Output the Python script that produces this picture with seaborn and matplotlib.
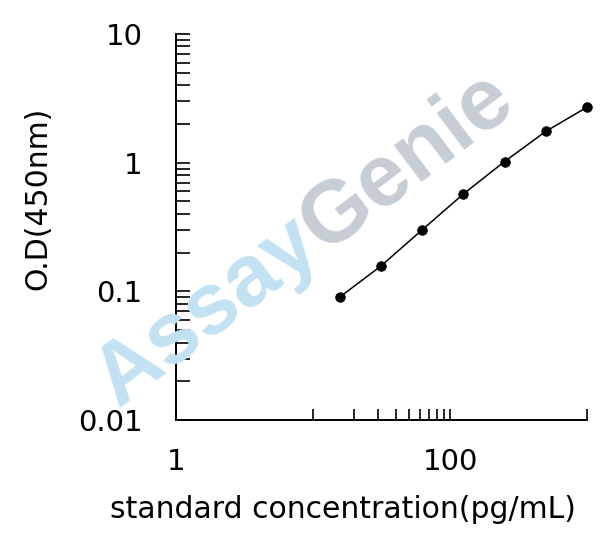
import numpy as np
import pandas as pd
import matplotlib
matplotlib.use("Agg")
import matplotlib.pyplot as plt
from matplotlib.ticker import FixedLocator, NullFormatter
import seaborn as sns

# ── data ─────────────────────────────────────────────────
conc = [15.625, 31.25, 62.5, 125, 250, 500, 1000]
od = [0.090, 0.157, 0.30, 0.57, 1.02, 1.75, 2.70]

x_major = [1, 10, 100, 1000]
x_major_labels = ["1", "", "100", ""]
x_minor = [20, 30, 40, 50, 60, 70, 80, 90]
y_major = [0.01, 0.1, 1, 10]
y_major_labels = ["0.01", "0.1", "1", "10"]

df = pd.DataFrame({"conc": conc, "od": od})

sns.set_style("ticks")
plt.rcParams["font.family"] = ["DejaVu Sans"]
plt.rcParams["text.color"] = "black"
plt.rcParams["axes.labelcolor"] = "black"

W, H = 608, 544
fig = plt.figure(figsize=(W / 100, H / 100), dpi=100)
ax = fig.add_axes([0.2895, 0.228, 0.676, 0.7095])
ax.set_facecolor("none")

# ── watermark: one word, two colours ─────────────────────
ang = 37
wm_size = 63
wm_font = ["Liberation Sans", "DejaVu Sans"]
x0, y0 = 118, 408   # baseline start, pixels from top-left
renderer = fig.canvas.get_renderer()
tmp = fig.text(0, 0, "Assay", fontsize=wm_size, fontweight="bold", family=wm_font)
w_assay = tmp.get_window_extent(renderer=renderer).width
tmp.remove()
fig.text(x0 / W, 1 - y0 / H, "Assay", fontsize=wm_size, fontweight="bold",
         family=wm_font, color="#c2e2f3", rotation=ang,
         rotation_mode="anchor", ha="left", va="baseline", zorder=0)
x1 = x0 + w_assay * np.cos(np.radians(ang))
y1 = y0 - w_assay * np.sin(np.radians(ang))
fig.text(x1 / W, 1 - y1 / H, "Genie", fontsize=wm_size, fontweight="bold",
         family=wm_font, color="#c6cdd5", rotation=ang,
         rotation_mode="anchor", ha="left", va="baseline", zorder=0)

# ── curve + points ───────────────────────────────────────
sns.lineplot(data=df, x="conc", y="od", ax=ax, color="black", linewidth=1.1)
sns.scatterplot(data=df, x="conc", y="od", ax=ax, color="black", s=48,
                edgecolor="black", zorder=5, clip_on=False)

ax.set_xscale("log")
ax.set_yscale("log")
ax.set_xlim(1, 1000)
ax.set_ylim(0.01, 10)

ax.xaxis.set_major_locator(FixedLocator(x_major))
ax.set_xticklabels(x_major_labels)
ax.xaxis.set_minor_locator(FixedLocator(x_minor))
ax.xaxis.set_minor_formatter(NullFormatter())
ax.yaxis.set_major_locator(FixedLocator(y_major))
ax.set_yticklabels(y_major_labels)
ax.yaxis.set_minor_formatter(NullFormatter())

sns.despine(ax=ax)
for side in ["left", "bottom"]:
    ax.spines[side].set_linewidth(1.4)
    ax.spines[side].set_color("black")

ax.tick_params(axis="x", which="both", direction="in", length=8, width=1.2,
               pad=20, labelsize=21, colors="black")
ax.tick_params(axis="y", which="both", direction="in", length=10, width=1.2,
               pad=24, labelsize=21, colors="black")

ax.set_xlabel("standard concentration(pg/mL)", fontsize=21.5)
ax.set_ylabel("O.D(450nm)", fontsize=21.5)
ax.xaxis.set_label_coords(0.406, -0.195)
ax.yaxis.set_label_coords(-0.30, 0.575)

fig.savefig("out.png", dpi=100)
